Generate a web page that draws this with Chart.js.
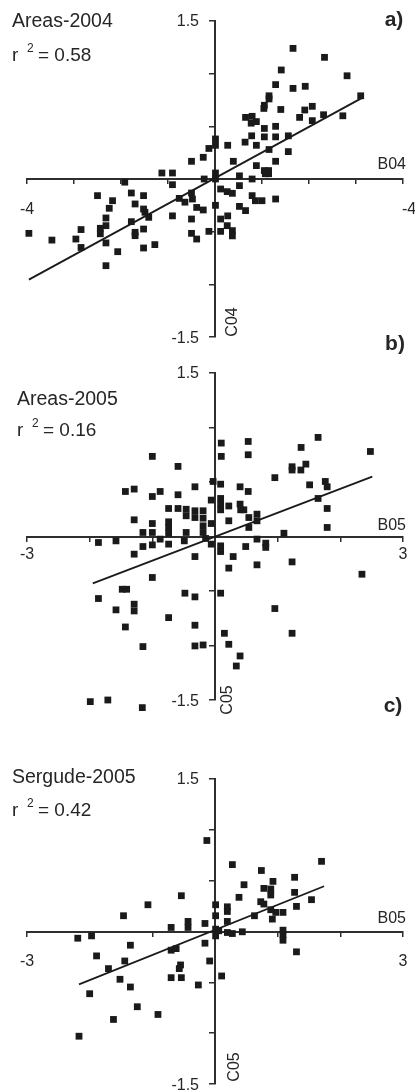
<!DOCTYPE html>
<html><head><meta charset="utf-8">
<script src="https://cdn.jsdelivr.net/npm/chart.js@4.4.1/dist/chart.umd.min.js"></script>
<style>
html,body{margin:0;padding:0;background:#fff;}
body{width:415px;height:1091px;position:relative;overflow:hidden;}
canvas{position:absolute;left:0;}
</style></head><body>
<canvas id="ca" width="415" height="355" style="top:0px"></canvas>
<canvas id="cb" width="415" height="395" style="top:325px"></canvas>
<canvas id="cc" width="415" height="401" style="top:690px"></canvas>
<script>
// ---------- data ----------
const panelTitles = ['Areas-2004', 'Areas-2005', 'Sergude-2005'];
const panelLetters = ['a)', 'b)', 'c)'];
const r2Values = ['0.58', '0.16', '0.42'];
const xAxisNames = ['B04', 'B05', 'B05'];
const yAxisNames = ['C04', 'C05', 'C05'];
const xTickLabelsA = ['-4', '-4'];
const xTickLabelsB = ['-3', '3'];
const xTickLabelsC = ['-3', '3'];
const yTickLabels = ['1.5', '-1.5'];

const areas2004Points = [
[1.66,1.24],[2.33,1.155],[1.41,1.035],[2.81,0.98],[1.29,0.896],[1.66,0.86],[1.92,0.88],[1.15,0.79],[1.15,0.76],[1.05,0.70],[1.04,0.67],
[3.10,0.79],[1.40,0.66],[2.07,0.69],[1.91,0.655],[2.72,0.60],[2.31,0.61],[1.80,0.585],[2.07,0.554],[0.65,0.585],[0.79,0.595],[0.77,0.53],
[0.88,0.545],[1.05,0.48],[1.29,0.50],[0.78,0.41],[1.05,0.40],[1.29,0.40],[1.56,0.41],[0.64,0.35],[0.88,0.32],[1.15,0.28],[1.56,0.26],
[0.27,0.32],[0.01,0.38],[0.01,0.32],[-0.13,0.29],[-0.25,0.206],[-0.50,0.168],[0.39,0.168],[0.88,0.127],[1.29,0.168],[1.05,0.08],[1.14,0.08],
[1.07,0.05],[1.14,0.05],[0.52,0.03],[0.79,0.0],[0.01,0.057],[0.01,0.0],[-0.23,0.0],[-1.13,0.057],[-0.905,0.057],[-0.905,-0.054],[-1.92,-0.03],
[-2.5,-0.158],[-1.78,-0.133],[-1.52,-0.158],[-2.18,-0.206],[-2.25,-0.278],[-1.70,-0.237],[-1.52,-0.285],[-1.49,-0.316],[-1.41,-0.364],
[-0.76,-0.184],[-0.64,-0.22],[-0.50,-0.133],[-0.48,-0.19],[-0.39,-0.27],[-0.25,-0.294],[0.01,-0.25],[0.12,-0.095],[0.26,-0.12],[0.37,-0.136],
[0.52,-0.063],[0.52,-0.26],[0.65,-0.30],[0.79,-0.158],[0.86,-0.206],[1.0,-0.206],[1.29,-0.19],[-0.905,-0.35],[-0.50,-0.38],[0.12,-0.38],
[0.27,-0.35],[0.26,-0.443],[0.37,-0.49],[0.37,-0.54],[-0.13,-0.497],[0.12,-0.497],[-0.50,-0.516],[-0.39,-0.57],[-1.28,-0.623],[-1.52,-0.655],
[-1.52,-0.475],[-1.70,-0.506],[-1.70,-0.538],[-1.78,-0.405],[-2.07,-0.69],[-2.32,-0.823],[-2.32,-0.607],[-2.32,-0.443],[-2.32,-0.37],
[-2.44,-0.468],[-2.44,-0.52],[-2.85,-0.48],[-2.85,-0.65],[-2.96,-0.57],[-3.47,-0.58],[-3.96,-0.516]
];
const areas2004Fit = [[-3.96,-0.955],[3.13,0.77]];

const areas2005Points = [
[0.10,0.857],[0.10,0.735],[0.53,0.872],[0.53,0.75],[1.645,0.909],[1.374,0.817],[2.48,0.78],[1.23,0.64],[1.37,0.61],[1.45,0.664],[1.23,0.61],
[0.955,0.54],[1.51,0.474],[1.76,0.505],[1.79,0.456],[1.645,0.349],[1.79,0.257],[1.79,0.083],[1.10,0.03],[-1.0,0.735],[-0.59,0.643],
[-1.43,0.413],[-1.29,0.435],[-1.0,0.367],[-0.875,0.413],[-0.59,0.383],[-0.32,0.456],[-0.03,0.505],[0.09,0.48],[0.40,0.456],[0.53,0.413],
[-0.06,0.334],[0.09,0.349],[0.09,0.297],[0.09,0.245],[0.22,0.28],[0.40,0.297],[0.41,0.245],[0.46,0.245],[0.54,0.174],[0.67,0.205],
[0.67,0.144],[0.54,0.083],[0.22,0.144],[-0.74,0.257],[-0.59,0.257],[-0.46,0.25],[-0.46,0.19],[-0.32,0.236],[-0.32,0.174],[-0.19,0.236],
[-0.19,0.168],[-0.06,0.119],[-0.19,0.098],[-0.19,0.037],[-0.15,-0.018],[-0.74,0.135],[-0.74,0.083],[-0.74,0.028],[-0.46,0.037],[-1.0,0.119],
[-1.0,0.037],[-1.15,0.037],[-1.29,0.153],[-0.875,-0.024],[-1.0,-0.077],[-1.15,-0.092],[-0.74,-0.07],[-0.49,-0.04],[-1.58,-0.04],[-1.86,-0.055],
[-1.29,-0.162],[-0.32,-0.184],[-0.06,-0.07],[0.09,-0.086],[0.09,-0.138],[0.29,-0.184],[0.22,-0.29],[0.49,-0.092],[0.67,-0.024],[0.81,-0.061],
[0.81,-0.10],[0.67,-0.26],[1.23,-0.233],[2.345,-0.346],[-1.0,-0.376],[-1.48,-0.484],[-1.41,-0.484],[-1.86,-0.569],[-1.29,-0.621],[-1.29,-0.683],
[-1.58,-0.673],[-1.43,-0.83],[-0.74,-0.744],[-0.48,-0.52],[-0.32,-0.554],[0.09,-0.52],[-0.32,-0.814],[-0.32,-1.004],[-0.19,-0.995],[-1.15,-1.01],
[0.15,-0.888],[0.22,-0.989],[0.40,-1.096],[0.34,-1.188],[0.955,-0.661],[1.23,-0.888],[-1.99,-1.515],[-1.71,-1.50],[-1.16,-1.57]
];
const areas2005Fit = [[-1.95,-0.43],[2.51,0.55]];

const sergude2005Points = [
[-0.13,0.895],[0.277,0.658],[1.70,0.69],[0.74,0.60],[1.27,0.533],[0.925,0.493],[0.463,0.46],[0.78,0.424],[0.89,0.418],[0.89,0.359],
[0.383,0.336],[1.27,0.385],[1.54,0.313],[0.73,0.293],[0.78,0.27],[1.30,0.247],[0.89,0.214],[0.97,0.188],[1.085,0.188],[0.915,0.122],
[0.63,0.155],[-0.537,0.352],[-1.07,0.263],[-1.46,0.155],[0.01,0.263],[0.197,0.243],[0.197,0.197],[0.01,0.155],[0.197,0.099],[-0.16,0.079],
[-0.43,0.099],[-0.43,0.04],[-0.70,0.04],[0.01,0.023],[0.06,0.007],[0.197,-0.01],[0.277,-0.02],[0.436,-0.003],[1.085,0.013],[1.085,-0.033],
[1.085,-0.086],[0.01,-0.043],[1.30,-0.20],[-2.19,-0.066],[-1.97,-0.043],[-1.35,-0.135],[-1.89,-0.24],[-1.70,-0.365],[-1.44,-0.29],
[-0.70,-0.184],[-0.62,-0.168],[-0.16,-0.115],[-0.55,-0.329],[-0.57,-0.365],[-0.085,-0.29],[-0.70,-0.454],[-0.537,-0.454],[0.106,-0.4375],
[-0.266,-0.526],[-1.516,-0.47],[-1.35,-0.546],[-2.0,-0.612],[-1.24,-0.74],[-0.91,-0.816],[-1.62,-0.865],[-2.17,-1.03]
];
const sergude2005Fit = [[-2.17,-0.52],[1.74,0.445]];

// ---------- drawing ----------
const FONT = "'Liberation Sans', Arial, Helvetica, sans-serif";
const INK = '#1a1a1a';
const TEXT = '#262626';
const AXIS = '#2e2e2e';

const toXY = arr => arr.map(p => ({x: p[0], y: p[1]}));

// lets markers that sit just past the axis ends still be drawn
const looseArea = {
  id: 'looseArea',
  beforeDatasetsDraw(chart) {
    const a = chart.chartArea;
    chart.$savedArea = {left: a.left, right: a.right, top: a.top, bottom: a.bottom};
    a.left -= 15; a.right += 15; a.top -= 15; a.bottom += 15;
  },
  afterDatasetsDraw(chart) {
    Object.assign(chart.chartArea, chart.$savedArea);
  }
};

const panelText = {
  id: 'panelText',
  afterDraw(chart, args, o) {
    const ctx = chart.ctx;
    const xs = chart.scales.x, ys = chart.scales.y;
    const axisY = ys.getPixelForValue(0);
    const axisX = xs.getPixelForValue(0);
    ctx.save();
    ctx.fillStyle = TEXT;
    ctx.textAlign = 'left'; ctx.textBaseline = 'alphabetic';
    ctx.font = '19.5px ' + FONT;
    ctx.fillText(o.title, o.titleX, o.titleY);
    ctx.font = '19px ' + FONT;
    ctx.fillText('r', o.titleX, o.rY);
    ctx.font = '12px ' + FONT;
    ctx.fillText('2', o.titleX + 15, o.rY - 9);
    ctx.font = '19px ' + FONT;
    ctx.fillText('= ' + o.r2, o.titleX + 26, o.rY);
    ctx.font = 'bold 21px ' + FONT;
    ctx.textAlign = 'center'; ctx.textBaseline = 'middle';
    ctx.fillText(o.letter, o.letterX, o.letterY);
    ctx.font = '16px ' + FONT;
    ctx.fillText(o.xTicks[0], xs.getPixelForValue(xs.min), axisY + o.xLabelGap);
    ctx.fillText(o.xTicks[1], xs.getPixelForValue(xs.max) + o.xRightShift, axisY + o.xLabelGap);
    ctx.textAlign = 'right';
    ctx.fillText(o.yTicks[0], axisX - 16, ys.getPixelForValue(ys.max) + 1);
    ctx.fillText(o.yTicks[1], axisX - 16, ys.getPixelForValue(ys.min) + 2);
    ctx.textBaseline = 'alphabetic';
    ctx.fillText(o.xName, xs.getPixelForValue(xs.max) + 3, axisY - o.xNameGap);
    ctx.translate(axisX + o.yNameDx, o.yNameY);
    ctx.rotate(-Math.PI / 2);
    ctx.textAlign = 'center'; ctx.textBaseline = 'middle';
    ctx.fillText(o.yName, 0, 0);
    ctx.restore();
  }
};

function axes(xmin, xmax) {
  const grid = {drawOnChartArea: false, drawTicks: true, color: AXIS, lineWidth: 1.5};
  const border = {display: true, color: AXIS, width: 2};
  return {
    x: {type: 'linear', min: xmin, max: xmax, position: {y: 0},
      ticks: {display: false, stepSize: 1},
      grid: Object.assign({}, grid, {tickLength: 4}), border: border},
    y: {type: 'linear', min: -1.5, max: 1.5, position: {x: 0},
      ticks: {display: false, stepSize: 0.5},
      grid: Object.assign({}, grid, {tickLength: 5}), border: border}
  };
}

function makeChart(id, pts, fit, xmin, xmax, pad, text) {
  return new Chart(document.getElementById(id), {
    type: 'scatter',
    data: {datasets: [
      {data: toXY(pts), pointStyle: 'rect', pointRadius: 4.8, backgroundColor: INK, borderWidth: 0, clip: false},
      {data: toXY(fit), showLine: true, borderColor: INK, borderWidth: 1.8, pointRadius: 0, clip: false}
    ]},
    options: {
      responsive: false, animation: false, devicePixelRatio: 1, events: [],
      layout: {padding: pad},
      scales: axes(xmin, xmax),
      plugins: {legend: {display: false}, tooltip: {enabled: false}, panelText: text}
    },
    plugins: [looseArea, panelText]
  });
}

makeChart('ca', areas2004Points, areas2004Fit, -4, 4,
  {top: 21, bottom: 18, left: 27, right: 12},
  {title: panelTitles[0], r2: r2Values[0], letter: panelLetters[0], xTicks: xTickLabelsA, yTicks: yTickLabels,
   xName: xAxisNames[0], yName: yAxisNames[0], titleX: 12, titleY: 27, rY: 61, letterX: 394, letterY: 20,
   xLabelGap: 31, xRightShift: 6, xNameGap: 10, yNameDx: 18, yNameY: 322});

makeChart('cb', areas2005Points, areas2005Fit, -3, 3,
  {top: 48, bottom: 20, left: 27, right: 12},
  {title: panelTitles[1], r2: r2Values[1], letter: panelLetters[1], xTicks: xTickLabelsB, yTicks: yTickLabels,
   xName: xAxisNames[1], yName: yAxisNames[1], titleX: 17, titleY: 80, rY: 111, letterX: 395, letterY: 19,
   xLabelGap: 18, xRightShift: 0, xNameGap: 7, yNameDx: 13, yNameY: 375});

makeChart('cc', sergude2005Points, sergude2005Fit, -3, 3,
  {top: 89, bottom: 7, left: 27, right: 12},
  {title: panelTitles[2], r2: r2Values[2], letter: panelLetters[2], xTicks: xTickLabelsC, yTicks: yTickLabels,
   xName: xAxisNames[2], yName: yAxisNames[2], titleX: 12, titleY: 93, rY: 126, letterX: 393, letterY: 16,
   xLabelGap: 30, xRightShift: 0, xNameGap: 9, yNameDx: 20, yNameY: 377});
</script>
</body></html>
